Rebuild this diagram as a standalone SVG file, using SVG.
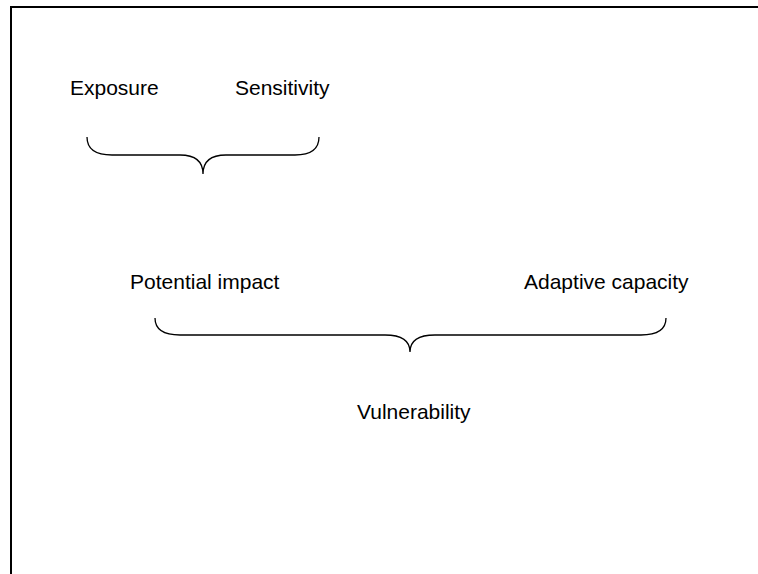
<svg xmlns="http://www.w3.org/2000/svg" width="758" height="574" viewBox="0 0 758 574">
<style>
.lbl{font-family:"Liberation Sans",Arial,sans-serif;font-size:21px;fill:#000}
.br{fill:none;stroke:#000;stroke-width:1.3}
.frame{fill:none;stroke:#000;stroke-width:2}
</style>
<rect width="758" height="574" fill="#fff"/>
<path class="frame" d="M11,574 L11,7 L758,7"/>
<g id="exposure"><text class="lbl" x="70" y="95">Exposure</text></g>
<g id="sensitivity"><text class="lbl" x="235" y="95">Sensitivity</text></g>
<g id="potential-impact"><text class="lbl" x="130" y="289">Potential impact</text></g>
<g id="adaptive-capacity"><text class="lbl" x="524" y="289">Adaptive capacity</text></g>
<g id="vulnerability"><text class="lbl" x="357" y="419">Vulnerability</text></g>
<g id="connectors">
<path class="br" d="M87,137 Q87,155 112,155 L180,155 Q203,155 203,174 Q203,155 226,155 L295,155 Q319,155 319,137"/>
<path class="br" d="M155,318 Q155,335 180,335 L385,335 Q410,335 410,352 Q410,335 435,335 L641,335 Q666,335 666,318"/>
</g>
</svg>
